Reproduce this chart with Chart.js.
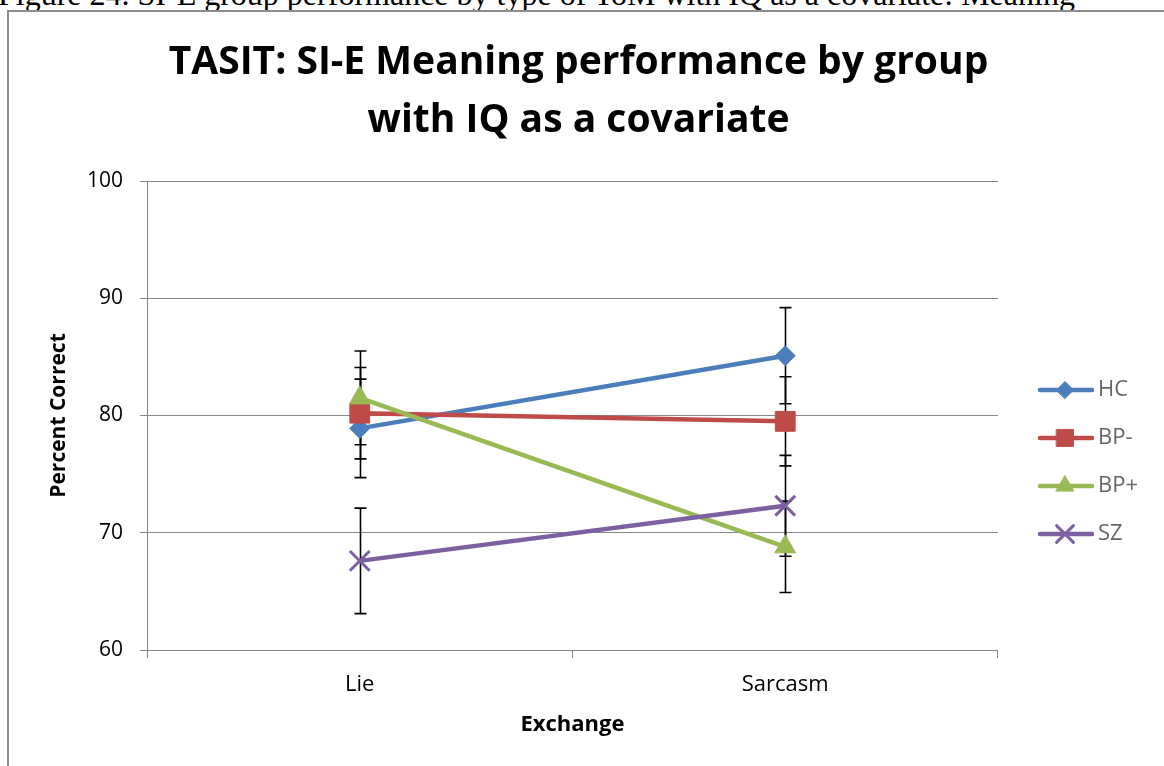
<!DOCTYPE html>
<html>
<head>
<meta charset="utf-8">
<script src="https://cdn.jsdelivr.net/npm/chart.js@4.4.1/dist/chart.umd.min.js"></script>
<style>
  html, body { margin: 0; padding: 0; background: #fff; overflow: hidden; width: 1164px; height: 766px; }
  .caption { position: absolute; left: -2px; top: -22px; font: 32px/32px "Liberation Serif", serif; white-space: nowrap; color: #000; }
  .frame { position: absolute; left: 7px; top: 10px; width: 1200px; height: 800px; border: 2px solid #8c8c8c; }
  #chart { position: absolute; left: 0; top: 0; }
</style>
</head>
<body>
<div class="caption">Figure 24. SI-E group performance by type of ToM with IQ as a covariate: Meaning</div>
<div class="frame"><canvas id="chart" width="1155" height="754"></canvas></div>
<script>
// values
const categories = ['Lie', 'Sarcasm'];
const groups = ['HC', 'BP-', 'BP+', 'SZ'];
const hcValues = [78.9, 85.1];
const bpMinusValues = [80.2, 79.5];
const bpPlusValues = [81.5, 68.8];
const szValues = [67.6, 72.3];
const hcErrors = [4.2, 4.1];
const bpMinusErrors = [3.9, 3.8];
const bpPlusErrors = [4.0, 3.9];
const szErrors = [4.5, 4.3];
const yTicks = [60, 70, 80, 90, 100];

const seriesValues = [hcValues, bpMinusValues, bpPlusValues, szValues];
const seriesErrors = [hcErrors, bpMinusErrors, bpPlusErrors, szErrors];

const FONT = '"Open Sans", sans-serif';
const GRID = '#868686';

const styles = [
  { color: '#4A7EBB', pointStyle: 'rectRot', radius: 10, borderWidth: 1 },
  { color: '#BE4B48', pointStyle: 'rect', radius: 14, borderWidth: 1 },
  { color: '#98B954', pointStyle: 'triangle', radius: 12, borderWidth: 1 },
  { color: '#7D60A0', pointStyle: 'crossRot', radius: 14, borderWidth: 3 }
];

// line + marker swatch for the legend, Excel style
function legendIcon(style) {
  const c = document.createElement('canvas');
  c.width = 77;
  c.height = 24;
  const ctx = c.getContext('2d');
  ctx.strokeStyle = style.color;
  ctx.fillStyle = style.color;
  ctx.lineWidth = 4.5;
  ctx.lineCap = 'round';
  ctx.beginPath();
  ctx.moveTo(23, 12);
  ctx.lineTo(75, 12);
  ctx.stroke();
  ctx.lineWidth = style.borderWidth;
  Chart.helpers.drawPoint(ctx, {
    pointStyle: style.pointStyle,
    radius: style.radius * 0.85,
    borderWidth: style.borderWidth,
    rotation: 0
  }, 48, 12);
  return c;
}
const icons = styles.map(legendIcon);

const errorBars = {
  id: 'errorBars',
  beforeDatasetsDraw(chart) {
    const { ctx, scales: { x, y } } = chart;
    ctx.save();
    ctx.strokeStyle = '#000';
    ctx.lineWidth = 1.6;
    chart.data.datasets.forEach((ds, d) => {
      ds.data.forEach((v, i) => {
        const err = seriesErrors[d][i];
        const px = Math.round(x.getPixelForValue(i)) + 0.5;
        const top = y.getPixelForValue(v + err);
        const bot = y.getPixelForValue(v - err);
        ctx.beginPath();
        ctx.moveTo(px, top); ctx.lineTo(px, bot);
        ctx.moveTo(px - 6, top); ctx.lineTo(px + 6, top);
        ctx.moveTo(px - 6, bot); ctx.lineTo(px + 6, bot);
        ctx.stroke();
      });
    });
    ctx.restore();
  }
};

new Chart(document.getElementById('chart'), {
  type: 'line',
  data: {
    labels: categories,
    datasets: groups.map((g, i) => ({
      label: g,
      data: seriesValues[i],
      borderColor: styles[i].color,
      backgroundColor: styles[i].color,
      borderWidth: 4.5,
      pointStyle: styles[i].pointStyle,
      pointRadius: styles[i].radius,
      pointHoverRadius: styles[i].radius,
      pointBorderWidth: styles[i].borderWidth,
      pointBackgroundColor: styles[i].color,
      pointBorderColor: styles[i].color,
      tension: 0,
      order: groups.length - i
    }))
  },
  options: {
    responsive: false,
    animation: false,
    layout: { padding: { left: 0, right: 16, top: 0, bottom: 0 } },
    plugins: {
      tooltip: { enabled: false },
      title: {
        display: true,
        text: ['TASIT: SI-E Meaning performance by group', 'with IQ as a covariate'],
        color: '#000',
        font: { family: FONT, size: 39, weight: 'bold', lineHeight: 58 / 39 },
        padding: { top: 22, bottom: 31 }
      },
      legend: {
        position: 'right',
        fullSize: false,
        title: { display: true, text: '', font: { size: 1, lineHeight: 1 }, padding: { top: 92, bottom: 0 } },
        labels: {
          usePointStyle: true,
          pointStyleWidth: 63,
          padding: 26,
          color: '#000',
          font: { family: FONT, size: 22, lineHeight: 1 },
          generateLabels: (chart) => chart.data.datasets.map((ds, i) => ({
            text: ds.label,
            pointStyle: icons[i],
            fillStyle: styles[i].color,
            strokeStyle: styles[i].color,
            lineWidth: 0,
            hidden: false,
            datasetIndex: i
          }))
        }
      }
    },
    scales: {
      x: {
        type: 'category',
        offset: true,
        grid: { offset: true, drawOnChartArea: false, drawTicks: true, tickLength: 8, color: GRID },
        border: { color: GRID, width: 1 },
        ticks: { color: '#000', padding: 14, font: { family: FONT, size: 22 } },
        title: {
          display: true, text: 'Exchange', color: '#000',
          font: { family: FONT, size: 22, weight: 'bold' },
          padding: { top: 0, bottom: 28 }
        },
        afterFit(s) { s.height = 116; }
      },
      y: {
        min: 60,
        max: 100,
        afterBuildTicks(s) { s.ticks = yTicks.map(v => ({ value: v })); },
        grid: { color: GRID, tickLength: 7 },
        border: { color: GRID, width: 1 },
        ticks: { color: '#000', padding: 17, font: { family: FONT, size: 21 } },
        title: {
          display: true, text: 'Percent Correct', color: '#000',
          font: { family: FONT, size: 21, weight: 'bold' },
          padding: { top: 37, bottom: 0 }
        },
        afterFit(s) { s.width = 138; }
      }
    }
  },
  plugins: [errorBars]
});
</script>
</body>
</html>
